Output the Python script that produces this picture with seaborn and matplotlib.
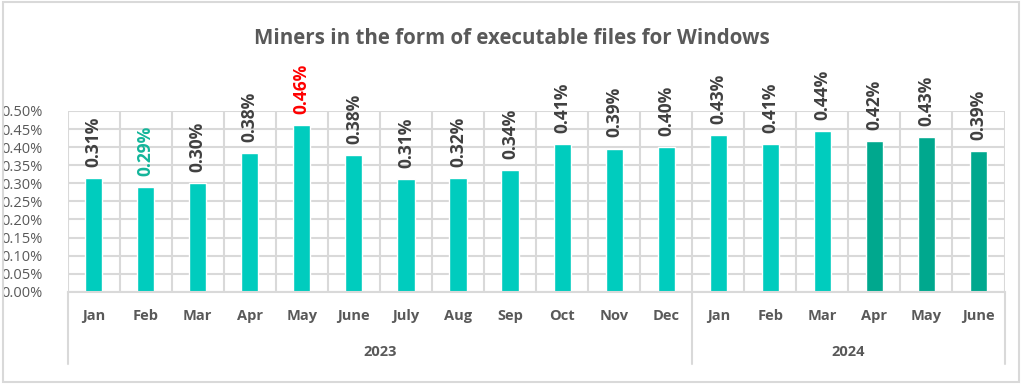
import matplotlib
matplotlib.use("Agg")
import matplotlib.pyplot as plt
import matplotlib.transforms as mtransforms
from matplotlib.patches import Rectangle
from matplotlib.ticker import FuncFormatter, MultipleLocator
import seaborn as sns

# data (values in percent)
months = ["Jan", "Feb", "Mar", "Apr", "May", "June", "July", "Aug", "Sep",
          "Oct", "Nov", "Dec", "Jan", "Feb", "Mar", "Apr", "May", "June"]
values = [0.314, 0.289, 0.301, 0.384, 0.461, 0.379, 0.312, 0.315, 0.337,
          0.409, 0.396, 0.401, 0.434, 0.409, 0.445, 0.417, 0.428, 0.388]
labels = ["0.31%", "0.29%", "0.30%", "0.38%", "0.46%", "0.38%", "0.31%", "0.32%", "0.34%",
          "0.41%", "0.39%", "0.40%", "0.43%", "0.41%", "0.44%", "0.42%", "0.43%", "0.39%"]
years = ["2023", "2024"]
year_counts = [12, 6]

light = "#00CCBE"
dark = "#00A88E"
bar_colors = [light] * 15 + [dark] * 3
label_colors = ["#404040"] * 18
label_colors[1] = "#13B59A"
label_colors[4] = "#FF0000"

sns.set_style("white")
plt.rcParams["font.family"] = ["Open Sans", "DejaVu Sans"]

fig = plt.figure(figsize=(10.24, 3.84), dpi=100)
ax = fig.add_axes([0.066, 0.24, 0.915, 0.471])

pos = list(range(len(values)))
sns.barplot(
    x=pos,
    y=values,
    hue=pos,
    palette=bar_colors,
    legend=False,
    width=0.33,
    saturation=1,
    ax=ax
)

ax.set_xlim(-0.5, len(values) - 0.5)
ax.set_ylim(0, 0.5)
ax.yaxis.set_major_locator(MultipleLocator(0.05))
ax.yaxis.set_major_formatter(FuncFormatter(lambda v, p: f"{v:.2f}%"))

grid_c = "#D9D9D9"
ax.grid(axis="y", color=grid_c, linewidth=1.5)
for b in [p - 0.5 for p in pos] + [len(values) - 0.5]:
    ax.axvline(b, color=grid_c, linewidth=1.5, zorder=0)
ax.set_axisbelow(True)
for s in ax.spines.values():
    s.set_visible(False)
ax.spines["bottom"].set_visible(True)
ax.spines["bottom"].set_color(grid_c)
ax.spines["bottom"].set_linewidth(1.5)

ax.set_xticks(pos)
ax.set_xticklabels(months, fontsize=10.5, fontweight="bold", color="#595959")
ax.tick_params(axis="x", length=0, pad=12)
ax.tick_params(axis="y", length=0, pad=18, labelsize=10.5, labelcolor="#595959")
ax.set_xlabel("")
ax.set_ylabel("")

# data labels
for i, v in enumerate(values):
    ax.annotate(
        labels[i],
        (i, v),
        xytext=(0, 8),
        textcoords="offset points",
        rotation=90,
        ha="center",
        va="bottom",
        fontsize=12.5,
        color=label_colors[i],
        fontweight="bold",
        annotation_clip=False
    )

# year grouping
trans = mtransforms.blended_transform_factory(ax.transData, ax.transAxes)
start = -0.5
for b in [start] + [start + sum(year_counts[:k + 1]) for k in range(len(year_counts))]:
    ax.plot([b, b], [0, -0.40], color=grid_c, linewidth=1.5, transform=trans, clip_on=False)
for yr, n in zip(years, year_counts):
    ax.text(start + n / 2, -0.33, yr, transform=trans, ha="center", va="center",
            fontsize=10.5, fontweight="bold", color="#595959")
    start += n

fig.text(0.5, 0.9, "Miners in the form of executable files for Windows",
         ha="center", va="center", fontsize=14.8, fontweight="bold", color="#595959")

fig.patches.append(Rectangle((0.003, 0.006), 0.992, 0.988, transform=fig.transFigure,
                             fill=False, edgecolor="#D9D9D9", linewidth=1.5))

plt.savefig("out.png", dpi=100)
plt.close()
